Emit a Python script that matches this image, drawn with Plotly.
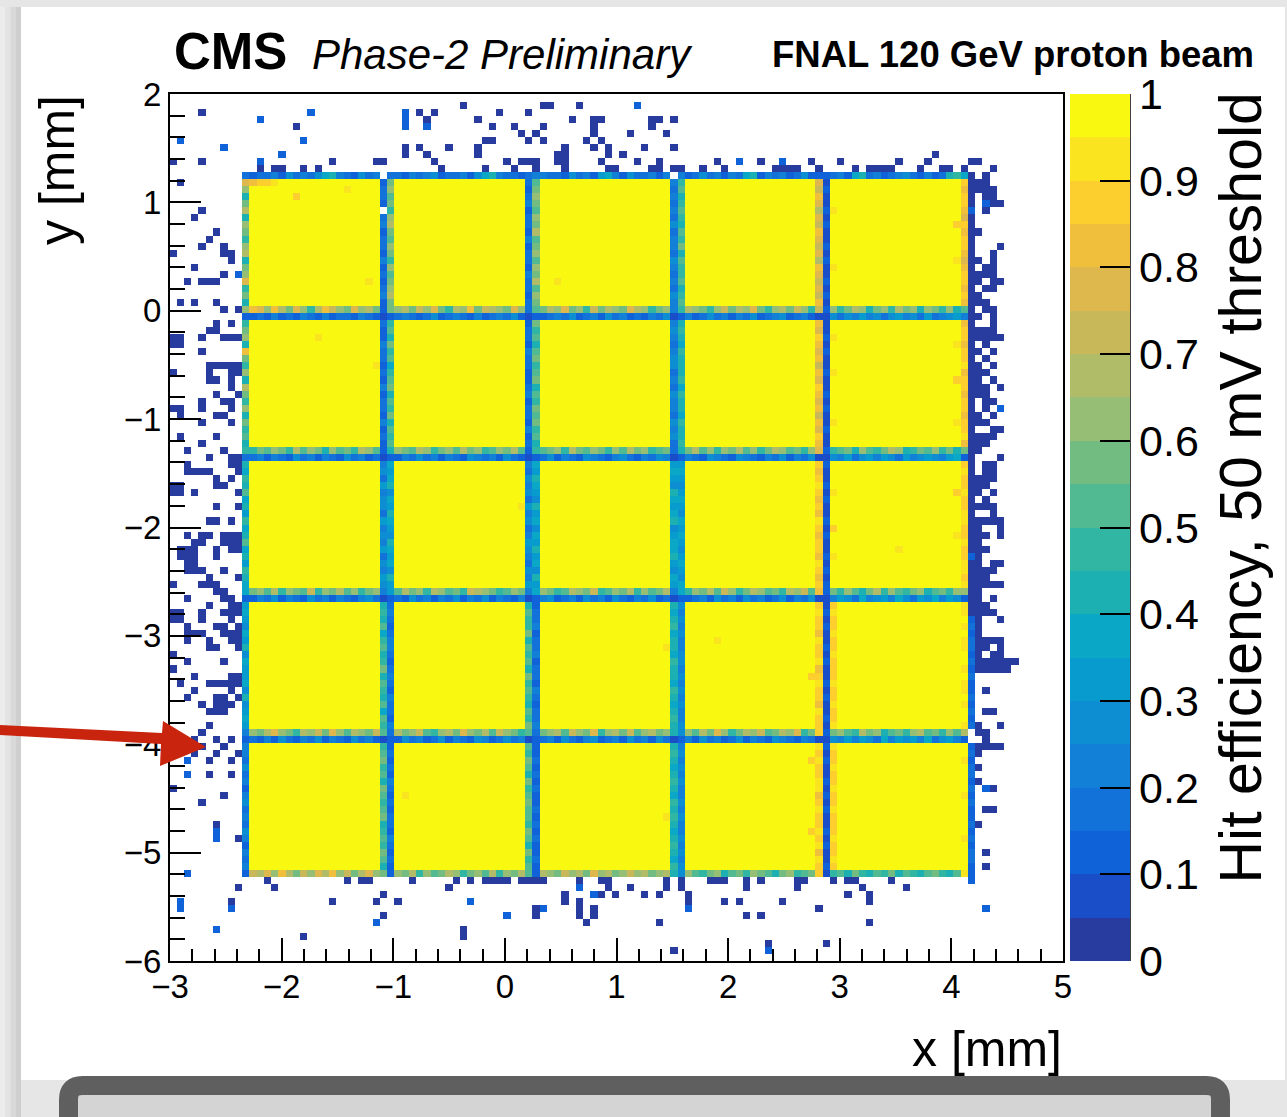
import numpy as np
import plotly.graph_objects as go

# ---------------- histogram binning (mm) ----------------
BIN_MM = 0.065
X_START, Y_START = -3.005, -6.0
N_X, N_Y = 124, 124

# 20 efficiency classes of width 0.05 : '0' -> [0,0.05) ... 'j' -> [0.95,1]
LEVELS = "0123456789abcdefghij"

# pads: first column bin of each pad column, top row bin of each pad row (18 bins per pad)
pad_col_bins = [11, 31, 51, 71, 91]
pad_row_tops = [110, 90, 70, 50, 30]
PAD_BINS = 18
pad_level = "j"

# inter-pad rows (efficiency class per bin, one group per pad column, left -> right)
gap_rows = {
    111: "233425343578432534 324345233425784332 433253426742533424 235342437824342352 342783423453242389",
    92:  "gfcgdbfc9dgecbfcdb cdbecfb9dcgbedcbfc bdcfbc9ebdcbfdc9bc dcb9cebdcfb9cdbec9 c9bdc8bc9dbc8cb9c8",
    91:  "232423243242332432 343235234324234352 234352342534232435 423534243523452342 535464535645363456",
    72:  "9bacb9dacb8cab9dca cbadc9bcadbc9acbda abc9dbacb9cadbc9ab bdac9cbdac9bdcab9c 9ab8ca9bdc89bac9b8",
    71:  "342432534243253423 243534243254342532 352432543245324354 432543254324352435 546356465364565467",
    52:  "bcad9cbae9cbdac9bc adbc9dcab9edcb9acb cb9adcbe9acbd9cabd 9cbdaec9bdcab9dcea b9ca8bd9ca9bc8ab9c",
    51:  "243524325342432453 325342435243524324 452342534253243523 234253425342352435 465374564753657465",
    32:  "cbdfcb9dcebfcadcbe dbcea9cdbfcbdaecb9 bcdaecbf9cdbeacdbc cadbfc9bdceabdcf9b bca9dbc8ab9cdab9ca",
    31:  "324253243524325342 253423524325423534 342532452342534253 425342352432543243 546465374656473564",
    12:  "edfcgdbecfdgcebdfc cbd9cabdc9bcad9cbd dcbecdbfcdbcecdbcd ca9bc8ab9cba8bc9ab 9a8b98a9b8a98ab98a",
}

# inter-pad columns (one group per pad row, each group top -> bottom)
gap_cols = {
    10:  "fc8bd8cb9cd8bcf9b8 9bc8gb9c8db9c8b9a8 8798a786978a786987 676576857667585676 443534245343542434",
    29:  "2332.3423324232342 322433232423324232 453645536454635465 898a79a89b8a98a7a9 9ab9a8ba9ab89a9ba8",
    30:  "bcab9cdbacb9cabcdb 9a8b9a79ab8a9b8a9a 767857687658767586 343234432343243324 232324323233243232",
    49:  "323423324233243323 233243322342332423 435453645346543546 8a99b8a9a8b9a98a9b a9ba8b9abaa9ba8b9a",
    50:  "abcbacbdabcacbdacb b9a8ab9ab8a9bab9a8 768765867576867586 233423342332432334 223232322323232232",
    69:  "434343534435434354 454345534354435453 676587678567786576 878978879887987898 898789879898789879",
    70:  "9a89a98a9b8a99a89a 898798889798879889 676567657676567657 545454455454545445 454545445454454545",
    89:  "fegfdfegfefdgfefeg gfhgfgegfhgfgegfhg hghihghgihghhgihgh hihhgihhighihhgihh ihihhiighihhihigih",
    90:  "121121211212112121 112121121121211211 211212112121121212 121211212112121121 212112121211212112",
    109: "hghhgfhghhgfghhghg ghhghhighhghhghhig hihhihhiihhihhiihi iijijiijjijiijijji jjijjjjijjjjjijjjj",
    110: ".................. .................. .................. ..2323323232232323 232332323223232332",
}

# pad columns with a tinted edge
pad_edge_cols = {
    91: "jjjjijjjjjjjijjjjj jjijjjjijjjjjjijjj jjjjijjjjhjjjijjjj hihhihhihhhihhihhi ihhihhihhihhhihhih",
}

# crossings of gap rows and gap columns
cross_rows = [111, 92, 91, 72, 71, 52, 51, 32, 31, 12]
cross_cols = [10, 29, 30, 49, 50, 69, 70, 89, 90, 109, 110]
cross_levels = [
    "3.334.4227.",
    "c2b3a49e2a.",
    "2121212114.",
    "9282938f2b.",
    "3121212112.",
    "7464747g2c.",
    "2121212112.",
    "4a3a385h2d.",
    "2121212112.",
    "2b2a285h1i2",
]

# single tinted bins inside pads (col, row, class)
pad_tints = [(11, 110, "g"), (12, 110, "h"), (13, 110, "h"), (14, 110, "i"), (17, 108, "h"),
             (24, 109, "i"), (27, 96, "i"), (108, 104, "h"), (108, 99, "i"), (108, 87, "i"),
             (108, 82, "h"), (108, 76, "i"), (108, 66, "h"), (108, 60, "i"), (28, 84, "i"),
             (48, 64, "i"), (68, 44, "i"), (20, 88, "i"), (53, 96, "i"), (75, 45, "i"),
             (100, 58, "i"), (32, 23, "i"), (88, 40, "h"), (88, 28, "h"), (88, 18, "h"), (68, 20, "i")]

# isolated hits outside the pads (row -> columns), efficiency class '0'
noise_dark = {
    121: [40, 51, 52, 56], 120: [4, 34, 36, 45, 49], 119: [35, 42, 55, 58, 59, 66, 67, 69],
    118: [17, 44, 47, 51, 58, 66], 117: [48, 50, 58, 63, 68], 116: [43, 44, 49, 51, 57, 59],
    115: [32, 34, 38, 42, 54, 58, 60, 65, 69], 114: [32, 35, 42, 53, 54, 60, 62, 105],
    113: [0, 4, 22, 28, 29, 36, 46, 48, 49, 50, 53, 54, 59, 64, 67, 75, 81, 88, 92, 100, 104, 110, 111],
    112: [12, 14, 15, 18, 20, 37, 43, 47, 50, 54, 60, 61, 66, 67, 69, 70, 73, 76, 83, 84, 85, 86, 89,
          94, 96, 97, 98, 99, 103, 106, 107, 109, 113],
    111: [110, 112], 110: [1, 110, 111, 112], 109: [110, 111, 112, 113], 108: [110, 112, 113],
    107: [110, 113, 114], 106: [4, 112], 105: [3, 110], 104: [110], 103: [6, 110, 111],
    102: [5, 110], 101: [4, 7, 110, 114], 100: [0, 7, 8, 110, 113], 99: [8, 110, 111, 113],
    98: [3, 110, 112, 113], 97: [7, 110, 111, 112, 113], 96: [2, 4, 5, 6, 110, 111, 113, 114],
    95: [110, 112, 113], 94: [110, 111], 93: [1, 3, 6, 110, 111, 112], 92: [7, 9, 110, 112, 113],
    91: [110, 111, 113], 90: [6, 8, 110, 113], 89: [5, 6, 110, 111, 112, 113],
    88: [0, 1, 4, 7, 8, 9, 110, 111, 112, 113, 114], 87: [0, 1, 110, 112], 86: [4, 110, 111, 113],
    85: [110, 112], 84: [5, 6, 7, 8, 9, 110, 111, 113], 83: [0, 5, 8, 9, 110, 111, 112],
    82: [5, 6, 8, 110, 111, 113], 81: [8, 110, 111, 112, 114], 80: [6, 9, 110, 111, 112],
    79: [4, 7, 8, 110, 112, 113], 78: [0, 1, 4, 8, 110, 112], 77: [1, 6, 7, 110, 111, 113],
    76: [4, 8, 110, 111, 112], 75: [110, 113, 114], 74: [1, 6, 110, 111, 112, 113],
    73: [4, 110, 111, 112], 72: [2, 7, 110, 111], 71: [5, 8, 9, 110, 114],
    70: [2, 8, 9, 110, 112, 113], 69: [2, 3, 4, 5, 9, 110, 112, 113], 68: [6, 8, 110, 111, 112, 113],
    67: [0, 1, 6, 7, 110, 111, 112], 66: [0, 1, 3, 9, 110, 111, 113], 65: [110, 112],
    64: [6, 9, 110, 111, 112, 113], 63: [110, 113], 62: [5, 6, 8, 110, 111, 112, 113, 114],
    61: [110, 111, 114], 60: [2, 4, 5, 7, 8, 9, 110, 111, 112, 114], 59: [3, 4, 7, 8, 9, 110, 111],
    58: [1, 2, 3, 6, 8, 9, 110, 111, 112], 57: [1, 2, 3, 6, 111], 56: [2, 3, 110, 111, 113, 114],
    55: [2, 3, 4, 7, 110, 111, 112, 113], 54: [5, 9, 110, 111, 112],
    53: [0, 4, 5, 6, 110, 111, 112, 113, 114], 52: [6, 7, 110, 111], 51: [2, 7, 8, 110, 111, 113],
    50: [5, 8, 9, 110, 111, 112], 49: [0, 1, 4, 7, 8, 9, 110, 111, 112, 113], 48: [0, 1, 4, 8, 111, 114],
    47: [2, 6, 7, 9, 111], 46: [2, 3, 4, 7, 8, 9, 111], 45: [2, 5, 8, 9, 111, 112, 113, 114],
    44: [5, 6, 9, 111, 112, 114], 43: [0, 111, 113, 114], 42: [2, 7, 111, 112, 113, 114, 115, 116],
    41: [0, 111, 112, 113, 114, 115], 40: [3, 8, 9], 39: [1, 5, 6, 7, 8, 9], 38: [3, 8, 112],
    37: [2, 6, 7, 9], 36: [4, 6, 7, 8], 35: [5, 6, 7, 112, 113], 33: [5, 111, 114], 32: [4, 111, 112],
    31: [3, 6, 8, 112], 30: [4, 7, 111, 112, 113, 114], 29: [3, 6, 9, 111], 28: [5, 8], 27: [111],
    26: [5, 8], 25: [111], 24: [0, 113], 23: [7], 22: [4], 21: [112, 113], 19: [6, 111], 17: [9],
    15: [112], 13: [112],
    11: [13, 24, 26, 27, 33, 39, 41, 43, 44, 45, 46, 48, 49, 50, 51, 56, 59, 60, 68, 70, 74, 75, 76,
         79, 81, 86, 87, 91, 93, 94, 99],
    10: [9, 14, 38, 60, 63, 68, 70, 79, 86, 95, 101], 9: [29, 54, 59, 61, 65, 67, 71, 93, 96],
    8: [8, 22, 28, 31, 54, 56, 71, 76, 78, 84, 96], 7: [50, 56, 58, 89], 6: [29, 50, 56, 58, 79, 81],
    5: [57, 67, 96], 4: [40], 3: [18, 40], 2: [82, 90], 1: [69],
}
# isolated hits with efficiency class '2'
noise_light = {
    121: [64], 120: [19, 32], 119: [12, 32], 118: [32, 35], 116: [1, 18], 115: [7], 114: [15],
    113: [12, 78, 84], 107: [112], 106: [110], 97: [9], 78: [114], 57: [110], 28: [2], 26: [2],
    24: [112], 18: [6], 17: [6], 12: [2], 11: [110], 10: [56], 9: [58], 8: [1, 41],
    7: [1, 8, 51, 71, 112], 6: [46], 5: [28], 4: [6], 1: [82],
}

x_range = [-3, 5]
y_range = [-6, 2]
cbar_ticks = [0, 0.1, 0.2, 0.3, 0.4, 0.5, 0.6, 0.7, 0.8, 0.9, 1.0]
cbar_labels = ["0", "0.1", "0.2", "0.3", "0.4", "0.5", "0.6", "0.7", "0.8", "0.9", "1"]

band_colors = ["#283ca0", "#1a4ec8", "#1062d9", "#1272d9", "#1280d6", "#0e8ed2", "#089cce",
               "#0aa8c6", "#1cb0b2", "#30b6a2", "#52ba92", "#72bc82", "#96be74", "#b0bc68",
               "#c8b85a", "#deb84c", "#f0c03c", "#fcce2e", "#fae420", "#f8f810"]

# ---------------- build the efficiency map ----------------
def level_value(ch):
    return (LEVELS.index(ch) + 0.5) / 20.0

z = np.full((N_Y, N_X), np.nan)

for row, cols in noise_dark.items():
    for c in cols:
        z[row, c] = level_value("0")
for row, cols in noise_light.items():
    for c in cols:
        z[row, c] = level_value("2")

for r_top in pad_row_tops:
    for c0 in pad_col_bins:
        z[r_top - PAD_BINS + 1:r_top + 1, c0:c0 + PAD_BINS] = level_value(pad_level)

for row, s in gap_rows.items():
    for grp, c0 in zip(s.split(), pad_col_bins):
        for i, ch in enumerate(grp[:PAD_BINS]):
            if ch != ".":
                z[row, c0 + i] = level_value(ch)

for col, s in list(gap_cols.items()) + list(pad_edge_cols.items()):
    for grp, r_top in zip(s.split(), pad_row_tops):
        for i, ch in enumerate(grp[:PAD_BINS]):
            if ch != ".":
                z[r_top - i, col] = level_value(ch)

for row, s in zip(cross_rows, cross_levels):
    for col, ch in zip(cross_cols, s):
        if ch != ".":
            z[row, col] = level_value(ch)

for col, row, ch in pad_tints:
    z[row, col] = level_value(ch)

x_centers = X_START + (np.arange(N_X) + 0.5) * BIN_MM
y_centers = Y_START + (np.arange(N_Y) + 0.5) * BIN_MM

colorscale = []
for i, c in enumerate(band_colors):
    colorscale.append([i / 20.0, c])
    colorscale.append([(i + 1) / 20.0, c])

# ---------------- page geometry ----------------
W, H = 1287, 1117
PL, PR, PT, PB = 170, 1063, 94, 961


def fx(p):
    return (p - PL) / (PR - PL)


def fy(p):
    return (PB - p) / (PB - PT)


FONT = "Liberation Sans, Arial, Helvetica, sans-serif"

fig = go.Figure()
fig.add_trace(go.Heatmap(
    x=x_centers, y=y_centers, z=z,
    zmin=0, zmax=1, colorscale=colorscale, hoverinfo="skip",
    colorbar=dict(
        x=fx(1070), xanchor="left", y=0.5, yanchor="middle", len=1, lenmode="fraction",
        thickness=60, thicknessmode="pixels", xpad=0, ypad=0, outlinewidth=0,
        tickmode="array", tickvals=cbar_ticks, ticktext=cbar_labels,
        ticks="inside", ticklen=30, tickwidth=2, tickcolor="black",
        tickfont=dict(family=FONT, size=43, color="black"),
    ),
))

axis_common = dict(
    showgrid=False, zeroline=False, showline=True, linecolor="black", linewidth=2,
    mirror=True, ticks="inside", tickwidth=2, tickcolor="black", automargin=False,
    tickfont=dict(family=FONT, size=33, color="black"), dtick=1,
)
fig.update_xaxes(range=x_range, tick0=-3, ticklen=23, ticklabelstandoff=-5,
                 minor=dict(dtick=0.2, ticks="inside", ticklen=12, tickwidth=2, tickcolor="black", showgrid=False),
                 **axis_common)
fig.update_yaxes(range=y_range, tick0=-6, ticklen=31,
                 minor=dict(dtick=0.2, ticks="inside", ticklen=15, tickwidth=2, tickcolor="black", showgrid=False),
                 **axis_common)

shapes = []
# slide background pieces
shapes.append(dict(type="rect", xref="paper", yref="paper", x0=fx(21), x1=fx(1285), y0=fy(1080), y1=fy(7),
                   fillcolor="white", line=dict(width=0), layer="below"))
for i, col in enumerate(["#ececec", "#e3e3e3", "#d9d9d9", "#cfcfcf"]):
    shapes.append(dict(type="rect", xref="paper", yref="paper", x0=fx(i * 5.25), x1=fx((i + 1) * 5.25),
                       y0=fy(1117), y1=fy(7), fillcolor=col, line=dict(width=0), layer="below"))
# rounded box at the bottom
rx0, rx1, ry0, ry1, rr = 68.5, 1220.5, 1085.5, 1200, 14
box_path = (f"M {fx(rx0)},{fy(ry1)} L {fx(rx0)},{fy(ry0 + rr)} "
            f"Q {fx(rx0)},{fy(ry0)} {fx(rx0 + rr)},{fy(ry0)} L {fx(rx1 - rr)},{fy(ry0)} "
            f"Q {fx(rx1)},{fy(ry0)} {fx(rx1)},{fy(ry0 + rr)} L {fx(rx1)},{fy(ry1)} Z")
shapes.append(dict(type="path", xref="paper", yref="paper", path=box_path,
                   fillcolor="#d4d4d4", line=dict(color="#5f5f5f", width=19), layer="above"))
# colour bar axis line
shapes.append(dict(type="line", xref="paper", yref="paper", x0=fx(1130), x1=fx(1130), y0=0, y1=1,
                   line=dict(color="black", width=1.5), layer="above"))
# red arrow
arrow_pts = [(0, 725), (162, 733), (163, 721), (206, 747), (160, 766), (161, 744), (0, 735)]
arrow_path = "M " + " L ".join(f"{fx(a)},{fy(b)}" for a, b in arrow_pts) + " Z"
shapes.append(dict(type="path", xref="paper", yref="paper", path=arrow_path,
                   fillcolor="#c9240e", line=dict(width=0), layer="above"))

annotations = [
    dict(text="<b>CMS</b>", x=fx(172), y=fy(52), xanchor="left", yanchor="middle",
         font=dict(family=FONT, size=51, color="black")),
    dict(text="<i>Phase-2 Preliminary</i>", x=fx(310), y=fy(55), xanchor="left", yanchor="middle",
         font=dict(family=FONT, size=42, color="black")),
    dict(text="<b>FNAL 120 GeV proton beam</b>", x=fx(1256), y=fy(55), xanchor="right", yanchor="middle",
         font=dict(family=FONT, size=36.5, color="black")),
    dict(text="y [mm]", x=fx(57), y=fy(93), xanchor="center", yanchor="top", textangle=-90,
         font=dict(family=FONT, size=50, color="black")),
    dict(text="x [mm]", x=fx(1064), y=fy(1049), xanchor="right", yanchor="middle",
         font=dict(family=FONT, size=50, color="black")),
    dict(text="Hit efficiency, 50 mV threshold", x=fx(1241), y=fy(91), xanchor="center", yanchor="top",
         textangle=-90, font=dict(family=FONT, size=59, color="black")),
]
for a in annotations:
    a.update(xref="paper", yref="paper", showarrow=False)

fig.update_layout(
    template="none", width=W, height=H,
    margin=dict(l=PL, r=W - PR, t=PT, b=H - PB, pad=0, autoexpand=False),
    paper_bgcolor="#e6e6e6", plot_bgcolor="white",
    font=dict(family=FONT, color="black"),
    shapes=shapes, annotations=annotations, showlegend=False,
)

fig.write_html("out.html")
